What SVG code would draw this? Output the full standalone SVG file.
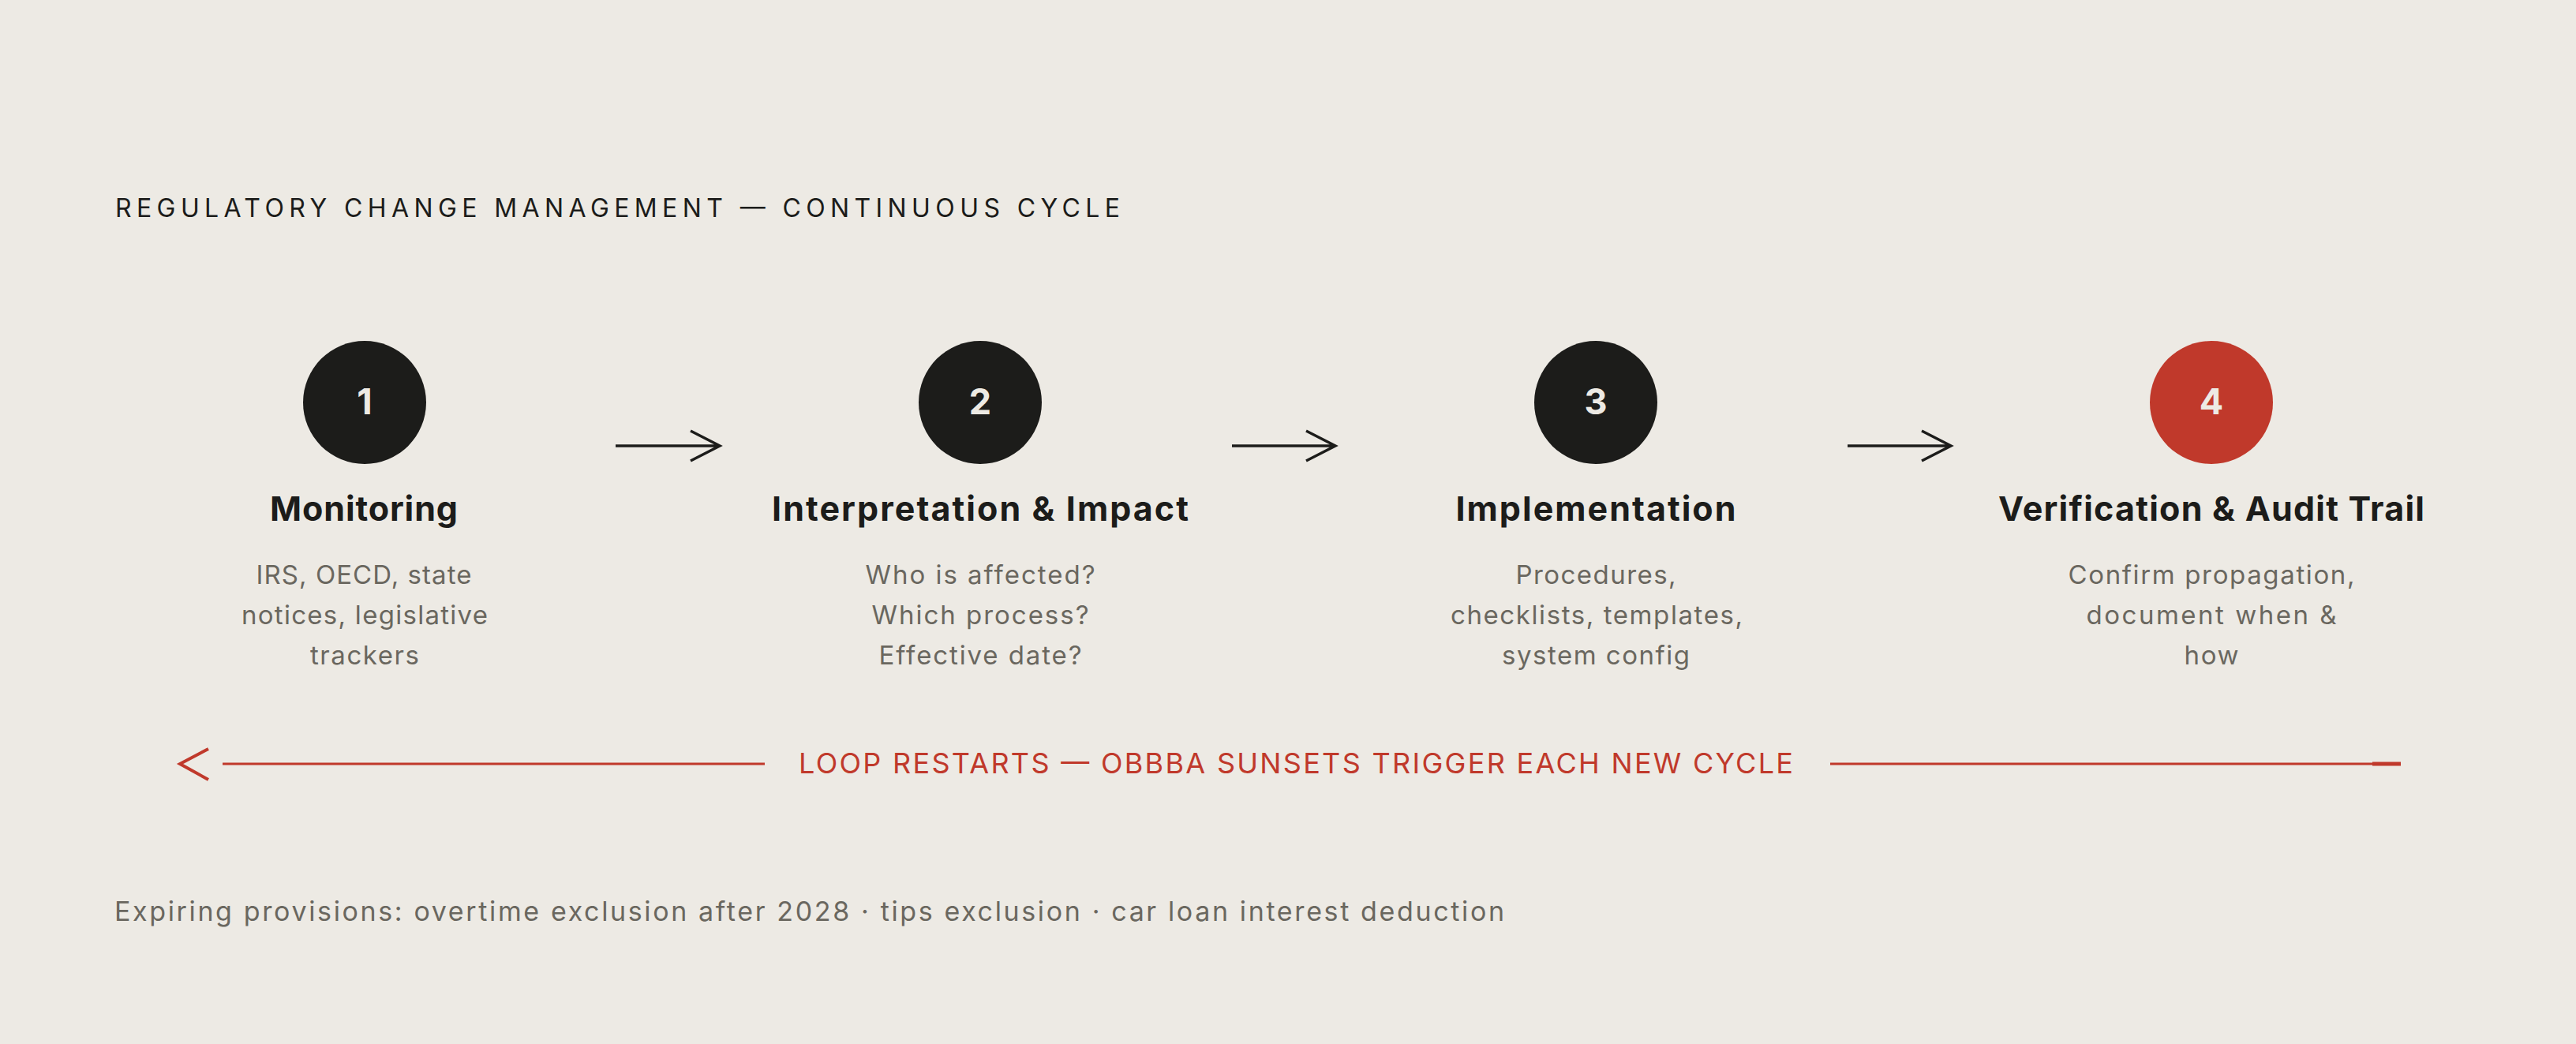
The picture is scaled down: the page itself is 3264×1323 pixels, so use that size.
<svg xmlns="http://www.w3.org/2000/svg" width="3264" height="1323" viewBox="0 0 3264 1323">
<style>
.bg{fill:#EDEAE4}
.hd{font-family:Inter,"Noto Sans","Liberation Sans",sans-serif;font-size:32px;fill:#1C1C1A;font-weight:400}
.num{font-family:Inter,"Noto Sans","Liberation Sans",sans-serif;font-size:45px;font-weight:700;fill:#EDEAE4;text-anchor:middle}
.ttl{font-family:Inter,"Noto Sans","Liberation Sans",sans-serif;font-size:43px;font-weight:700;fill:#1C1C1A;text-anchor:middle}
.dsc{font-family:Inter,"Noto Sans","Liberation Sans",sans-serif;font-size:33px;font-weight:400;fill:#6A675F;text-anchor:middle}
.loop{font-family:Inter,"Noto Sans","Liberation Sans",sans-serif;font-size:36px;font-weight:400;fill:#C0392B}
.foot{font-family:Inter,"Noto Sans","Liberation Sans",sans-serif;font-size:34px;font-weight:400;fill:#6A675F}
.dark{fill:#1C1C1A}
.red{fill:#C0392B}
.arr{stroke:#1C1C1A;stroke-width:3.5;fill:none}
.rl{stroke:#C0392B;stroke-width:3;fill:none}
</style>
<rect class="bg" x="0" y="0" width="3264" height="1323"/>
<text class="hd" x="146" y="275" textLength="1273" lengthAdjust="spacing">REGULATORY CHANGE MANAGEMENT — CONTINUOUS CYCLE</text>

<g id="node1">
<circle class="dark" cx="462" cy="510" r="78"/>
<text class="num" x="462" y="525">1</text>
<text class="ttl" x="461" y="660" textLength="238" lengthAdjust="spacing">Monitoring</text>
<text class="dsc" x="461" y="740" textLength="273" lengthAdjust="spacing">IRS, OECD, state</text>
<text class="dsc" x="462" y="791" textLength="312" lengthAdjust="spacing">notices, legislative</text>
<text class="dsc" x="462" y="842" textLength="138" lengthAdjust="spacing">trackers</text>
</g>

<g id="node2">
<circle class="dark" cx="1242" cy="510" r="78"/>
<text class="num" x="1242" y="525">2</text>
<text class="ttl" x="1242" y="660" textLength="528" lengthAdjust="spacing">Interpretation &amp; Impact</text>
<text class="dsc" x="1242" y="740" textLength="291" lengthAdjust="spacing">Who is affected?</text>
<text class="dsc" x="1242" y="791" textLength="275" lengthAdjust="spacing">Which process?</text>
<text class="dsc" x="1242" y="842" textLength="257" lengthAdjust="spacing">Effective date?</text>
</g>

<g id="node3">
<circle class="dark" cx="2022" cy="510" r="78"/>
<text class="num" x="2022" y="525">3</text>
<text class="ttl" x="2022" y="660" textLength="355" lengthAdjust="spacing">Implementation</text>
<text class="dsc" x="2022" y="740" textLength="203" lengthAdjust="spacing">Procedures,</text>
<text class="dsc" x="2023" y="791" textLength="370" lengthAdjust="spacing">checklists, templates,</text>
<text class="dsc" x="2022" y="842" textLength="238" lengthAdjust="spacing">system config</text>
</g>

<g id="node4">
<circle class="red" cx="2802" cy="510" r="78"/>
<text class="num" x="2802" y="525">4</text>
<text class="ttl" x="2802" y="660" textLength="540" lengthAdjust="spacing">Verification &amp; Audit Trail</text>
<text class="dsc" x="2802" y="740" textLength="363" lengthAdjust="spacing">Confirm propagation,</text>
<text class="dsc" x="2802" y="791" textLength="317" lengthAdjust="spacing">document when &amp;</text>
<text class="dsc" x="2802" y="842" textLength="69" lengthAdjust="spacing">how</text>
</g>

<g id="connectors">
<path class="arr" d="M780 565 H911 M875 546 L912 565 L875 584"/>
<path class="arr" d="M1561 565 H1691 M1655 546 L1692 565 L1655 584"/>
<path class="arr" d="M2341 565 H2471 M2435 546 L2472 565 L2435 584"/>
<g id="loop">
<path class="rl" d="M282 968 H969"/>
<path class="rl" d="M2319 968 H3006"/>
<rect class="red" x="3006" y="965.5" width="36" height="5"/>
<path d="M264 949 L228 968 L264 988" fill="none" stroke="#C0392B" stroke-width="4"/>
<text class="loop" x="1012" y="980" textLength="1260" lengthAdjust="spacing">LOOP RESTARTS — OBBBA SUNSETS TRIGGER EACH NEW CYCLE</text>
</g>
</g>

<text class="foot" x="145" y="1167" textLength="1761" lengthAdjust="spacing">Expiring provisions: overtime exclusion after 2028 · tips exclusion · car loan interest deduction</text>
</svg>
